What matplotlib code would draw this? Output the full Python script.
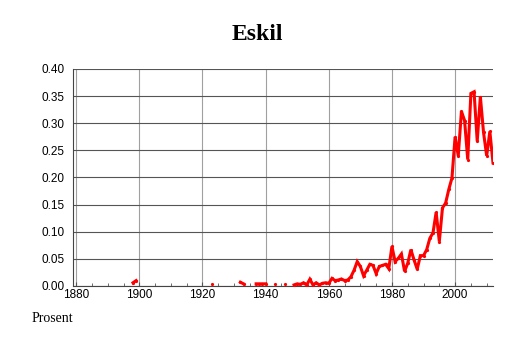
"""Share of the name Eskil per year, redrawn as a line chart."""

import matplotlib

matplotlib.use("Agg")
import matplotlib.pyplot as plt
import numpy as np
from matplotlib.ticker import FormatStrFormatter, MultipleLocator

TITLE = "Eskil"
Y_LABEL = "Prosent"

# years that have a value; gaps between them are left empty in the plot
YEARS = [
    1898, 1899, 1923, 1932, 1933, 1937, 1938, 1939, 1940, 1943, 1946,
    1949, 1950, 1951, 1952, 1953, 1954, 1955, 1956, 1957, 1958, 1959,
    1960, 1961, 1962, 1963, 1964, 1965, 1966, 1967, 1968, 1969,
    1970, 1971, 1972, 1973, 1974, 1975, 1976, 1977, 1978, 1979,
    1980, 1981, 1982, 1983, 1984, 1985, 1986, 1987, 1988, 1989,
    1990, 1991, 1992, 1993, 1994, 1995, 1996, 1997, 1998, 1999,
    2000, 2001, 2002, 2003, 2004, 2005, 2006, 2007, 2008, 2009,
    2010, 2011, 2012,
]
PERCENT = [
    0.006, 0.010, 0.003, 0.007, 0.004, 0.004, 0.004, 0.004, 0.004, 0.003, 0.003,
    0.002, 0.004, 0.003, 0.006, 0.002, 0.0125, 0.002, 0.006, 0.002, 0.005, 0.006,
    0.005, 0.014, 0.010, 0.011, 0.013, 0.010, 0.011, 0.017, 0.029, 0.045,
    0.036, 0.019, 0.029, 0.040, 0.038, 0.023, 0.036, 0.038, 0.040, 0.032,
    0.073, 0.045, 0.051, 0.059, 0.027, 0.042, 0.067, 0.048, 0.031, 0.056,
    0.056, 0.067, 0.088, 0.098, 0.136, 0.082, 0.144, 0.153, 0.178, 0.199,
    0.275, 0.240, 0.322, 0.305, 0.233, 0.355, 0.358, 0.267, 0.349, 0.283,
    0.240, 0.285, 0.227,
]
X_LIMITS = (1879, 2012)
Y_LIMITS = (0.0, 0.40)


def with_gaps(years, values):
    """Insert NaN between non-consecutive years so the line breaks there."""
    xs, ys = [], []
    for i, (year, value) in enumerate(zip(years, values)):
        if i > 0 and year - years[i - 1] > 1:
            xs.append(year - 0.5)
            ys.append(np.nan)
        xs.append(year)
        ys.append(value)
    return np.array(xs, dtype=float), np.array(ys, dtype=float)


def main() -> None:
    plt.rcParams["font.family"] = ["Liberation Sans", "DejaVu Sans"]

    fig = plt.figure(figsize=(5.14, 3.43), dpi=100)
    ax = fig.add_axes([73 / 514, 1 - 286 / 343, (493 - 73) / 514, (286 - 69) / 343])

    xs, ys = with_gaps(YEARS, PERCENT)
    ax.plot(xs, ys, color="#ff0000", linewidth=2.2, solid_joinstyle="miter",
            marker="o", markersize=2.3, markeredgewidth=0, zorder=3)

    ax.set_xlim(*X_LIMITS)
    ax.set_ylim(*Y_LIMITS)
    ax.xaxis.set_major_locator(MultipleLocator(20))
    ax.xaxis.set_minor_locator(MultipleLocator(5))
    ax.yaxis.set_major_locator(MultipleLocator(0.05))
    ax.yaxis.set_major_formatter(FormatStrFormatter("%.2f"))

    ax.grid(axis="y", color="#555555", linewidth=0.8)
    ax.grid(axis="x", color="#a0a0a0", linewidth=0.8)
    ax.set_axisbelow(True)

    ax.tick_params(axis="x", which="major", direction="in", length=3,
                   width=0.8, color="#555555", labelsize=8.5, pad=2.5)
    ax.tick_params(axis="x", which="minor", direction="in", length=2,
                   width=0.6, color="#555555")
    ax.tick_params(axis="y", direction="in", length=0, labelsize=8.5, pad=6)

    for side in ("top", "right"):
        ax.spines[side].set_visible(False)
    for side in ("left", "bottom"):
        ax.spines[side].set_color("#444444")
        ax.spines[side].set_linewidth(0.8)

    fig.text(0.5, 1 - 34 / 343, TITLE, ha="center", va="center",
             family="Liberation Serif", fontweight="bold", fontsize=17)
    fig.text(32 / 514, 1 - 318 / 343, Y_LABEL, ha="left", va="center",
             family="Liberation Serif", fontsize=10)

    fig.savefig("out.png", dpi=100)
    plt.close(fig)


if __name__ == "__main__":
    main()
